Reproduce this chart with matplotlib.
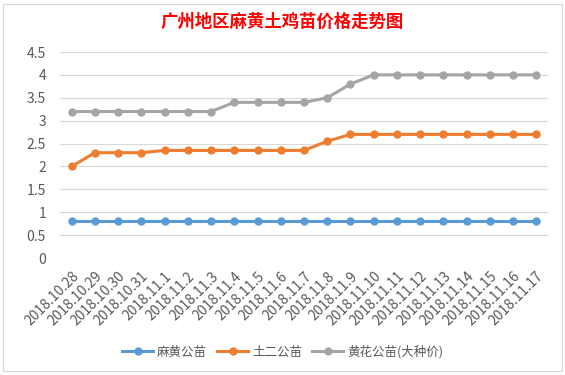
import matplotlib.pyplot as plt
from matplotlib.patches import Rectangle

plt.rcParams['font.family'] = ['Noto Sans CJK SC', 'DejaVu Sans']

dates = ['2018.10.28', '2018.10.29', '2018.10.30', '2018.10.31', '2018.11.1',
         '2018.11.2', '2018.11.3', '2018.11.4', '2018.11.5', '2018.11.6',
         '2018.11.7', '2018.11.8', '2018.11.9', '2018.11.10', '2018.11.11',
         '2018.11.12', '2018.11.13', '2018.11.14', '2018.11.15', '2018.11.16',
         '2018.11.17']
mahuang = [0.8] * 21
tuer = [2.0, 2.3, 2.3, 2.3, 2.35, 2.35, 2.35, 2.35, 2.35, 2.35, 2.35,
        2.55, 2.7, 2.7, 2.7, 2.7, 2.7, 2.7, 2.7, 2.7, 2.7]
huanghua = [3.2, 3.2, 3.2, 3.2, 3.2, 3.2, 3.2, 3.4, 3.4, 3.4, 3.4,
            3.5, 3.8, 4.0, 4.0, 4.0, 4.0, 4.0, 4.0, 4.0, 4.0]
series_names = ['麻黄公苗', '土二公苗', '黄花公苗(大种价)']
colors = ['#5b9bd5', '#ed7d31', '#a5a5a5']

fig = plt.figure(figsize=(5.65, 3.75), dpi=100)
# thin outer frame like the spreadsheet chart box
fig.patches.append(Rectangle((0.006, 0.01), 0.988, 0.98, transform=fig.transFigure,
                             fill=False, edgecolor='#d9d9d9', lw=0.8))
ax = fig.add_axes([60 / 565, 1 - 258 / 375, 488 / 565, 206 / 375])

x = range(len(dates))
for vals, name, c in zip([mahuang, tuer, huanghua], series_names, colors):
    ax.plot(x, vals, color=c, lw=2.2, marker='o', ms=5, label=name)

ax.set_ylim(0, 4.5)
ax.set_yticks([i * 0.5 for i in range(10)])
ax.set_yticklabels(['0', '0.5', '1', '1.5', '2', '2.5', '3', '3.5', '4', '4.5'])
ax.set_xlim(-0.5, len(dates) - 0.5)
ax.set_xticks(list(x))
ax.set_xticklabels(dates, rotation=45, ha='right', rotation_mode='anchor')
ax.tick_params(length=0, labelsize=10, labelcolor='#595959', pad=8)
ax.tick_params(axis='y', pad=10)
ax.grid(axis='y', color='#d9d9d9', lw=0.8)
ax.set_axisbelow(True)
for s in ax.spines.values():
    s.set_visible(False)

fig.text(0.5, 1 - 22 / 375, '广州地区麻黄土鸡苗价格走势图', color='red',
         fontsize=12.5, fontweight='bold', ha='center', va='center')
fig.legend(loc='center', bbox_to_anchor=(0.5, 1 - 352 / 375), ncol=3,
           frameon=False, fontsize=9, handlelength=2.5, columnspacing=0.8,
           handletextpad=0.3, labelcolor='#595959')

fig.savefig('out.png', dpi=100)
